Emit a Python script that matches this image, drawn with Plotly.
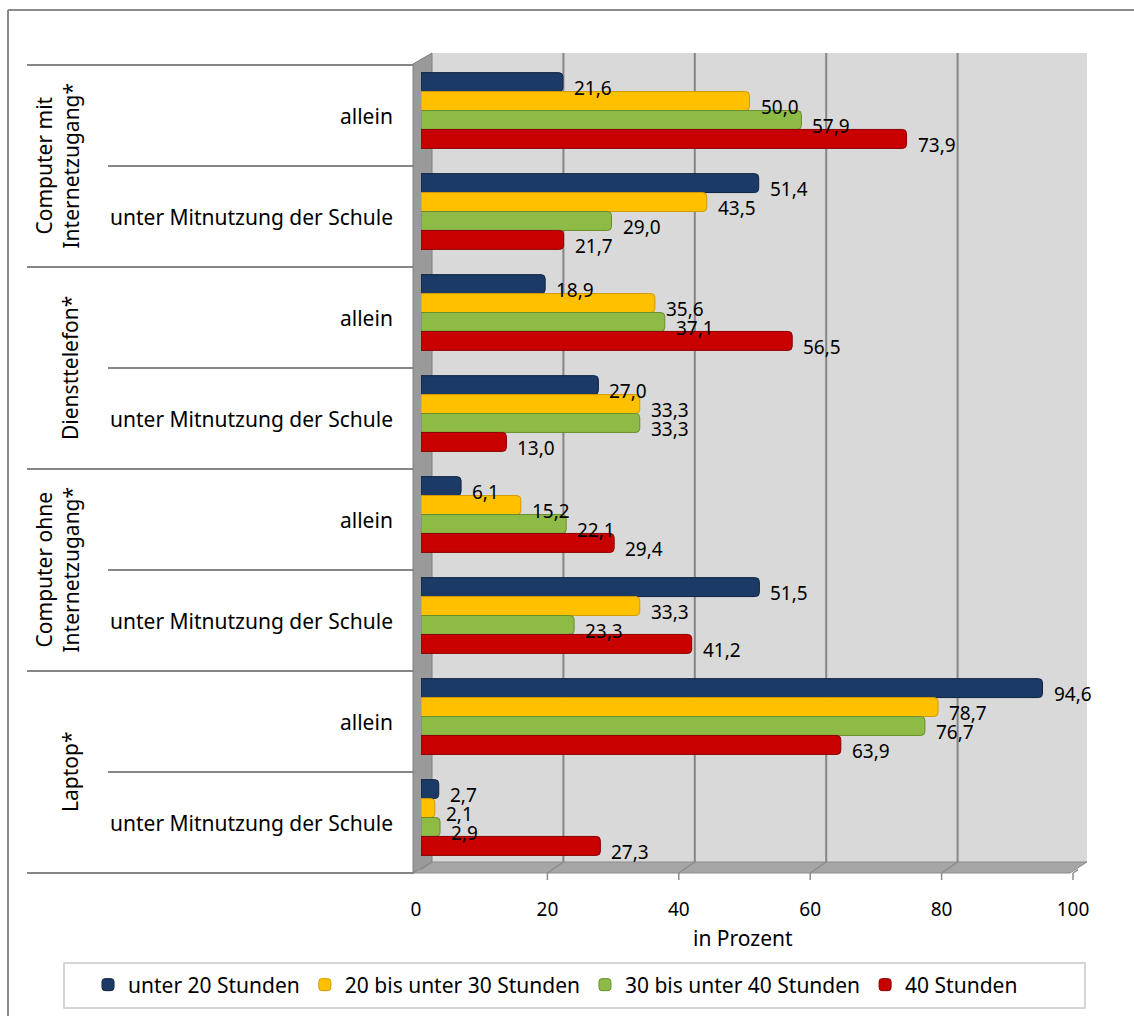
import plotly.graph_objects as go

# ---------------- data ----------------
outer_groups = ["Computer mit<br>Internetzugang*", "Diensttelefon*",
                "Computer ohne<br>Internetzugang*", "Laptop*"]
inner_labels = ["allein", "unter Mitnutzung der Schule"]

series_names = ["unter 20 Stunden", "20 bis unter 30 Stunden",
                "30 bis unter 40 Stunden", "40 Stunden"]
vals_u20 = [21.6, 51.4, 18.9, 27.0, 6.1, 51.5, 94.6, 2.7]
vals_20_30 = [50.0, 43.5, 35.6, 33.3, 15.2, 33.3, 78.7, 2.1]
vals_30_40 = [57.9, 29.0, 37.1, 33.3, 22.1, 23.3, 76.7, 2.9]
vals_40 = [73.9, 21.7, 56.5, 13.0, 29.4, 41.2, 63.9, 27.3]
series_values = [vals_u20, vals_20_30, vals_30_40, vals_40]

x_ticks = [0, 20, 40, 60, 80, 100]
x_title = "in Prozent"

# ---------------- style ----------------
colors = ["#1B3A66", "#FFC000", "#8DBB45", "#C80000"]
edge_colors = ["#0F2440", "#D39A00", "#6A8E2C", "#8A0000"]
FONT = "Noto Sans"
W, H = 1134, 1016
L, RX, T, B = 421, 1078, 60, 868      # pixel extents of plot area
BARGAP = 0.25


def px(xp):
    return (xp - L) / (RX - L)


def py(yp):
    return (B - yp) / (B - T)


categories = [f"{o}|{i}" for o in outer_groups for i in inner_labels]
n_series = len(series_names)

fig = go.Figure()
for k in range(n_series):
    fig.add_trace(go.Bar(
        y=categories, x=series_values[k], orientation="h",
        name=series_names[k],
        marker=dict(color=colors[k], line=dict(color=edge_colors[k], width=1),
                    cornerradius=4),
        hoverinfo="x+name",
    ))

# data labels
annotations = []
group_w = 1 - BARGAP
for k in range(n_series):
    off = -group_w / 2 + (k + 0.5) * group_w / n_series
    for ci, v in enumerate(series_values[k]):
        annotations.append(dict(
            x=v, y=ci + off, xref="x", yref="y",
            text=f"{v:.1f}".replace(".", ","), showarrow=False,
            xanchor="left", yanchor="middle", xshift=9, yshift=-6,
            font=dict(family=FONT, size=19, color="#000000"),
        ))

# inner category labels
for ci, c in enumerate(categories):
    inner = c.split("|")[1]
    annotations.append(dict(
        x=px(395), y=ci, xref="paper", yref="y", text=inner,
        showarrow=False, xanchor="right", yanchor="middle", yshift=-5,
        font=dict(family=FONT, size=21, color="#000000"),
    ))

# outer category labels (rotated)
for gi, g in enumerate(outer_groups):
    annotations.append(dict(
        x=px(86), y=gi * 2 + 0.5, xref="paper", yref="y", text=g,
        showarrow=False, xanchor="right", yanchor="middle", yshift=-5,
        textangle=-90, align="center",
        font=dict(family=FONT, size=21, color="#000000"),
    ))

# axis title
annotations.append(dict(
    x=px(743), y=py(938), xref="paper", yref="paper", text=x_title,
    showarrow=False, xanchor="center", yanchor="middle",
    font=dict(family=FONT, size=21, color="#000000"),
))

shapes = []
GRAY = "#868686"
# back wall
shapes.append(dict(type="rect", xref="paper", yref="paper",
                   x0=px(432), x1=px(1087), y0=py(862), y1=py(53),
                   fillcolor="#D9D9D9", line=dict(width=0), layer="below"))
# left wall
shapes.append(dict(type="path", xref="paper", yref="paper",
                   path=f"M{px(413)},{py(64)} L{px(432)},{py(53)} L{px(432)},{py(862)} L{px(413)},{py(873)} Z",
                   fillcolor="#9A9A9A", line=dict(color="#808080", width=1), layer="below"))
# floor
shapes.append(dict(type="path", xref="paper", yref="paper",
                   path=f"M{px(413)},{py(873)} L{px(1070)},{py(873)} L{px(1087)},{py(862)} L{px(432)},{py(862)} Z",
                   fillcolor="#A6A6A6", line=dict(color="#8C8C8C", width=1), layer="below"))
# gridlines on back wall and floor, front ticks
for v in x_ticks[1:]:
    shapes.append(dict(type="line", xref="x", xsizemode="pixel", xanchor=v,
                       x0=11, x1=11, yref="paper", y0=py(862), y1=py(53),
                       line=dict(color="#7F7F7F" if v == 100 else GRAY, width=2),
                       layer="below"))
for v in x_ticks:
    shapes.append(dict(type="line", xref="x", xsizemode="pixel", xanchor=v,
                       x0=-5, x1=11, yref="paper", y0=py(873), y1=py(862),
                       line=dict(color="#8C8C8C", width=1.5), layer="below"))
    shapes.append(dict(type="line", xref="x", xsizemode="pixel", xanchor=v,
                       x0=-5, x1=-5, yref="paper", y0=py(873), y1=py(880),
                       line=dict(color="#8C8C8C", width=1.5), layer="below"))
# left-hand separator lines
for k in range(len(categories) + 1):
    yp = 65 + 101 * k
    x_start = 27 if k % 2 == 0 else 108
    shapes.append(dict(type="line", xref="paper", yref="paper",
                       x0=px(x_start), x1=px(414), y0=py(yp), y1=py(yp),
                       line=dict(color=GRAY, width=2), layer="below"))
# chart border
shapes.append(dict(type="line", xref="paper", yref="paper",
                   x0=px(8), x1=px(1140), y0=py(10), y1=py(10),
                   line=dict(color="#8A8A8A", width=2), layer="below"))
shapes.append(dict(type="line", xref="paper", yref="paper",
                   x0=px(8), x1=px(8), y0=py(10), y1=py(1020),
                   line=dict(color="#8A8A8A", width=2), layer="below"))
# legend box
shapes.append(dict(type="rect", xref="paper", yref="paper",
                   x0=px(64), x1=px(1085), y0=py(1008), y1=py(963),
                   fillcolor="rgba(0,0,0,0)", line=dict(color="#C8C8C8", width=1.5),
                   layer="below"))

fig.update_layout(
    width=W, height=H,
    margin=dict(l=L, r=W - RX, t=T, b=H - B, pad=0, autoexpand=False),
    paper_bgcolor="white", plot_bgcolor="rgba(0,0,0,0)",
    barmode="group", bargap=BARGAP, bargroupgap=0,
    font=dict(family=FONT, size=19, color="#000000"),
    showlegend=True,
    legend=dict(orientation="h", xanchor="left", yanchor="middle",
                xref="paper", yref="paper",
                x=px(88), y=py(985), traceorder="normal",
                font=dict(family=FONT, size=21, color="#000000"),
                bgcolor="rgba(0,0,0,0)", itemwidth=30),
    annotations=annotations,
    shapes=shapes,
)
fig.update_xaxes(range=[0, 100], tickvals=x_ticks, showgrid=False,
                 zeroline=False, showline=False, ticks="",
                 ticklabelstandoff=28, ticklabelshift=-5,
                 tickfont=dict(family=FONT, size=19, color="#000000"),
                 fixedrange=True)
fig.update_yaxes(type="category", categoryarray=categories,
                 categoryorder="array", range=[7.5, -0.5],
                 showticklabels=False, showgrid=False, zeroline=False,
                 showline=False, ticks="", fixedrange=True)

fig.write_html("out.html")
